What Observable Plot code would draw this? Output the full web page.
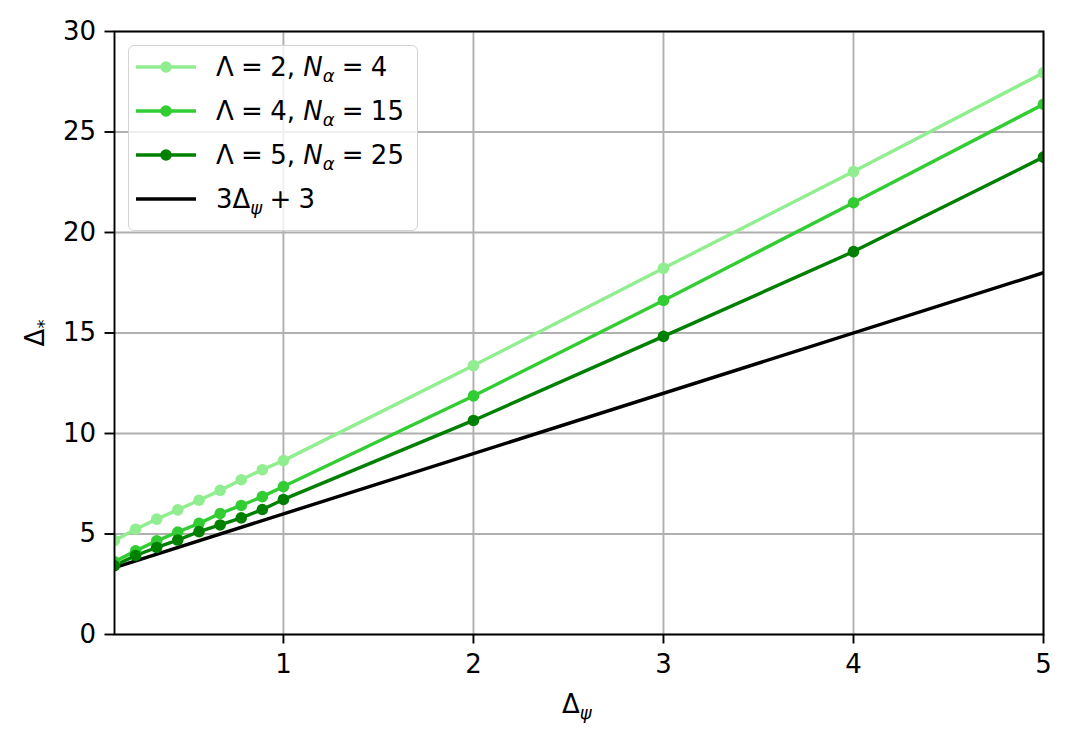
<!DOCTYPE html>
<html>
<head>
<meta charset="utf-8">
<script src="https://cdn.jsdelivr.net/npm/d3@7"></script>
<script src="https://cdn.jsdelivr.net/npm/@observablehq/plot@0.6"></script>
<style>
  html, body { margin: 0; padding: 0; background: white; }
  #wrap { position: relative; width: 1072px; height: 747px; font-family: "DejaVu Sans", sans-serif; }
  .lab { position: absolute; font-size: 26px; color: black; white-space: nowrap; line-height: 1; }
  sub { font-size: 18px; vertical-align: -6px; line-height: 0; }
  .eq { margin: 0 0.28em; }
  #legend { position: absolute; left: 128px; top: 45px; width: 288px; height: 184px;
            border: 1.9px solid #d4d4d4; border-radius: 6px; background: rgba(255,255,255,0.8); }
  .row { position: absolute; left: 0; height: 30px; width: 288px; }
  .row svg { position: absolute; left: 7px; top: 0; }
  .row .txt { position: absolute; left: 87px; top: 2px; font-size: 26px; white-space: nowrap; line-height: 1; }
</style>
</head>
<body>
<div id="wrap"></div>
<script>
// Data
const deltaPsi = [0.111, 0.222, 0.333, 0.444, 0.556, 0.667, 0.778, 0.889, 1, 2, 3, 4, 5];
const seriesLight = [4.68, 5.24, 5.74, 6.20, 6.68, 7.17, 7.70, 8.20, 8.65, 13.38, 18.22, 23.03, 27.95];
const seriesMid   = [3.62, 4.16, 4.66, 5.10, 5.53, 6.02, 6.42, 6.86, 7.36, 11.87, 16.62, 21.48, 26.38];
const seriesDark  = [3.42, 3.93, 4.33, 4.70, 5.12, 5.45, 5.80, 6.22, 6.72, 10.65, 14.83, 19.05, 23.75];
const refX = [0.111, 5];
const refY = [3.333, 18];
const seriesNames = ["Λ = 2, N_α = 4", "Λ = 4, N_α = 15", "Λ = 5, N_α = 25"];
const seriesLambda = ["2", "4", "5"];
const seriesN = ["4", "15", "25"];
const seriesColors = ["#90ee90", "#32cd32", "#008000"];
const xTicks = [1, 2, 3, 4, 5];
const yTicks = [0, 5, 10, 15, 20, 25, 30];

const allSeries = [seriesLight, seriesMid, seriesDark];
const table = [];
allSeries.forEach((vals, si) => vals.forEach((v, i) => table.push({x: deltaPsi[i], y: v, s: seriesNames[si]})));
const refTable = refX.map((x, i) => ({x, y: refY[i]}));

const plot = Plot.plot({
  width: 1072,
  height: 747,
  marginLeft: 114,
  marginRight: 29,
  marginTop: 31,
  marginBottom: 113,
  style: {fontSize: "26px", fontFamily: "DejaVu Sans, sans-serif", color: "black", background: "white"},
  x: {domain: [0.111, 5]},
  y: {domain: [0, 30]},
  color: {domain: seriesNames, range: seriesColors},
  marks: [
    Plot.gridX(xTicks, {stroke: "#b0b0b0", strokeOpacity: 1, strokeWidth: 1.9}),
    Plot.gridY(yTicks, {stroke: "#b0b0b0", strokeOpacity: 1, strokeWidth: 1.9}),
    Plot.line(refTable, {x: "x", y: "y", stroke: "black", strokeWidth: 3.4, clip: true}),
    Plot.line(table, {x: "x", y: "y", z: "s", stroke: "s", strokeWidth: 3.4, clip: true}),
    Plot.dot(table, {x: "x", y: "y", fill: "s", r: 5.8, clip: true}),
    Plot.frame({stroke: "black", strokeWidth: 1.9}),
    Plot.axisX(xTicks, {tickSize: 9.5, tickPadding: 11, strokeWidth: 1.9, label: null, fontSize: 26, tickFormat: "d"}),
    Plot.axisY(yTicks, {tickSize: 9.5, tickPadding: 9, strokeWidth: 1.9, label: null, fontSize: 26, tickFormat: "d"})
  ]
});

const wrap = document.getElementById("wrap");
wrap.appendChild(plot);

// Axis labels
const xl = document.createElement("div");
xl.className = "lab";
xl.innerHTML = "Δ<sub><i>ψ</i></sub>";
xl.style.left = "562px"; xl.style.top = "691px";
wrap.appendChild(xl);

const yl = document.createElement("div");
yl.className = "lab";
yl.innerHTML = "Δ<sub>*</sub>";
yl.style.left = "35px"; yl.style.top = "333px";
yl.style.transform = "translate(-50%, -50%) rotate(-90deg)";
wrap.appendChild(yl);

// Legend
const legend = document.createElement("div");
legend.id = "legend";
wrap.appendChild(legend);
const rowsTop = [6, 50, 94, 138];
seriesNames.forEach((name, i) => {
  const row = document.createElement("div");
  row.className = "row";
  row.style.top = rowsTop[i] + "px";
  row.innerHTML = `<svg width="62" height="30"><line x1="0" y1="15" x2="60" y2="15" stroke="${seriesColors[i]}" stroke-width="3.4"/><circle cx="30" cy="15" r="5.8" fill="${seriesColors[i]}"/></svg>` +
    `<div class="txt">Λ<span class="eq">=</span>${seriesLambda[i]}, <i>N</i><sub><i>α</i></sub><span class="eq">=</span>${seriesN[i]}</div>`;
  legend.appendChild(row);
});
const refRow = document.createElement("div");
refRow.className = "row";
refRow.style.top = rowsTop[3] + "px";
refRow.innerHTML = `<svg width="62" height="30"><line x1="0" y1="15" x2="60" y2="15" stroke="black" stroke-width="3.4"/></svg><div class="txt">3Δ<sub><i>ψ</i></sub><span class="eq">+</span>3</div>`;
legend.appendChild(refRow);
</script>
</body>
</html>
